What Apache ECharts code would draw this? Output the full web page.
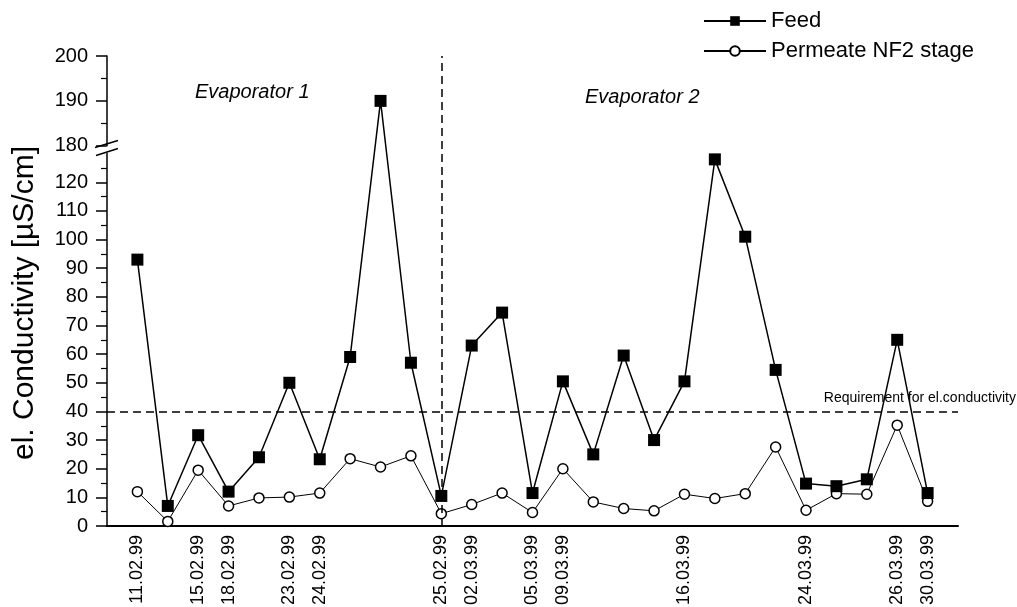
<!DOCTYPE html>
<html>
<head>
<meta charset="utf-8">
<script src="https://cdn.jsdelivr.net/npm/echarts@6/dist/echarts.min.js"></script>
<style>
html,body{margin:0;padding:0;background:#fff;}
#chart{width:1017px;height:607px;}
</style>
</head>
<body>
<div id="chart"></div>
<script>
// ---- data ----
const dates = ['11.02.99','','15.02.99','18.02.99','','23.02.99','24.02.99','','','','25.02.99','02.03.99','','05.03.99','09.03.99','','','','16.03.99','','','','24.03.99','','','26.03.99','30.03.99'];
const feed = [93, 7, 31.7, 12, 24, 50, 23.3, 59, 190, 57, 10.5, 63, 74.5, 11.5, 50.5, 25, 59.5, 30, 50.5, 128, 101, 54.5, 14.8, 13.9, 16.3, 65, 11.5];
const permeate = [12, 1.6, 19.5, 7, 9.8, 10.1, 11.5, 23.5, 20.6, 24.5, 4.3, 7.5, 11.5, 4.7, 20, 8.4, 6.1, 5.3, 11.1, 9.6, 11.3, 27.6, 5.5, 11.3, 11.1, 35.2, 8.6];
const lowerTicks = [0,10,20,30,40,50,60,70,80,90,100,110,120];
const upperTicks = [180,190,200];
const minorLower = [5,15,25,35,45,55,65,75,85,95,105,115,125];
const minorUpper = [185,195];
const requirement = 40;
const seriesNames = ['Feed','Permeate NF2 stage'];

// ---- broken-axis scale (lower part 0..~131, upper part 180..200 stretched) ----
const LOW_TOP = 131.6;
const UP0 = 132.75;
const K = 1.567;
function D(v){ return v <= LOW_TOP ? v : UP0 + (v - 180) * K; }
function inv(d){ return d <= LOW_TOP + 0.5 ? Math.round(d) : Math.round(180 + (d - UP0) / K); }

const xCats = [''].concat(dates, ['']);
const feedData = feed.map((v,i) => [i + 1, D(v)]);
const permData = permeate.map((v,i) => [i + 1, D(v)]);
const majorD = lowerTicks.map(D).concat(upperTicks.map(D));
const minorD = minorLower.map(D).concat(minorUpper.map(D));

const FONT = 'Liberation Sans, Arial, sans-serif';
const chart = echarts.init(document.getElementById('chart'), null, {renderer:'canvas'});
chart.setOption({
  backgroundColor:'#fff',
  animation:false,
  grid:{left:107, right:59, top:56, bottom:81, containLabel:false, outerBoundsMode:'none'},
  legend:{
    data:seriesNames, orient:'vertical', left:698, top:5,
    itemWidth:62, itemHeight:12, itemGap:8,
    textStyle:{fontFamily:FONT, fontSize:22, color:'#000'}
  },
  xAxis:{
    type:'category', data:xCats, boundaryGap:false,
    axisLine:{lineStyle:{color:'#000', width:2}},
    axisTick:{show:false},
    axisLabel:{interval:0, rotate:90, margin:9, color:'#000', fontFamily:FONT, fontSize:18},
    splitLine:{show:false}
  },
  yAxis:[{
    type:'value', min:0, max:D(200),
    name:'el. Conductivity [µS/cm]', nameLocation:'middle', nameGap:67,
    nameTextStyle:{fontFamily:FONT, fontSize:30, color:'#000', padding:[0,24,0,0]},
    axisLine:{show:true, lineStyle:{color:'#000', width:1.5}},
    axisTick:{show:true, length:11, customValues:majorD, lineStyle:{color:'#000', width:1.5}},
    axisLabel:{customValues:majorD, margin:19, color:'#000', fontFamily:FONT, fontSize:20, formatter:v => String(inv(v))},
    splitLine:{show:false}
  },{
    type:'value', min:0, max:D(200), position:'left',
    axisLine:{show:false},
    axisTick:{show:true, length:6, customValues:minorD, lineStyle:{color:'#000', width:1.2}},
    axisLabel:{show:false},
    splitLine:{show:false}
  }],
  series:[{
    name:'Feed', type:'line', data:feedData, z:4,
    symbol:'rect', symbolSize:12,
    lineStyle:{color:'#000', width:1.5},
    itemStyle:{color:'#000'},
    markLine:{
      silent:true, symbol:['none','none'], label:{show:false},
      lineStyle:{color:'#000', type:[8,5], width:1.5},
      data:[{yAxis:D(requirement)}, {xAxis:'25.02.99'}]
    }
  },{
    name:'Permeate NF2 stage', type:'line', data:permData, z:3,
    symbol:'circle', symbolSize:10,
    lineStyle:{color:'#000', width:1},
    itemStyle:{color:'#fff', borderColor:'#000', borderWidth:1.5}
  }]
});

// break mark on y axis + annotations
const ax = chart.convertToPixel({xAxisIndex:0}, 0);
const yb = chart.convertToPixel({yAxisIndex:0}, (LOW_TOP + UP0) / 2);
chart.setOption({
  graphic:[
    {type:'polygon', z:100, shape:{points:[[ax-11,yb+3],[ax+11,yb-5],[ax+11,yb+3],[ax-11,yb+11-3]]}, style:{fill:'#fff'}},
    {type:'line', z:101, shape:{x1:ax-12, y1:yb, x2:ax+11, y2:yb-7}, style:{stroke:'#000', lineWidth:1.5}},
    {type:'line', z:101, shape:{x1:ax-11, y1:yb+8, x2:ax+11, y2:yb+1}, style:{stroke:'#000', lineWidth:1.5}},
    {type:'text', z:50, x:195, y:92, style:{text:'Evaporator 1', font:'italic 20px Liberation Sans, Arial, sans-serif', fill:'#000', textVerticalAlign:'middle'}},
    {type:'text', z:50, x:585, y:97, style:{text:'Evaporator 2', font:'italic 20px Liberation Sans, Arial, sans-serif', fill:'#000', textVerticalAlign:'middle'}},
    {type:'text', z:50, x:1016, y:398, style:{text:'Requirement for el.conductivity', font:'14px Liberation Sans, Arial, sans-serif', fill:'#000', textAlign:'right', textVerticalAlign:'middle'}}
  ]
});
</script>
</body>
</html>
